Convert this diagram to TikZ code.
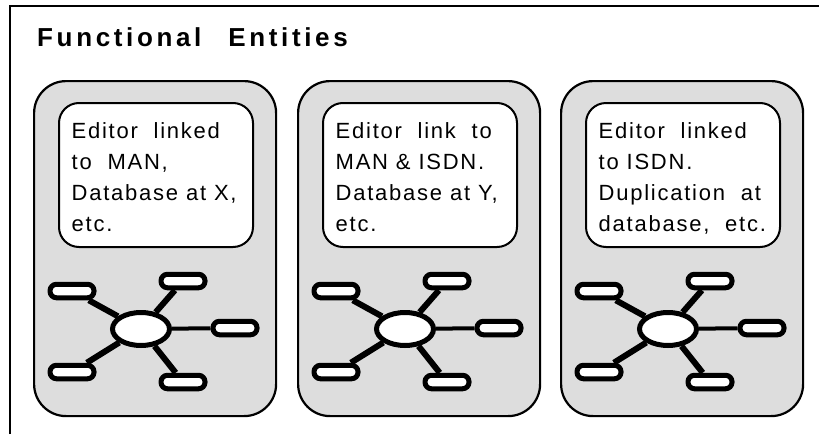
\documentclass[tikz,border=0pt]{standalone}
\usepackage{fontspec}
\setmainfont{Liberation Sans}
\newfontfamily\bodyfont[LetterSpace=8]{Liberation Sans}
\newfontfamily\headfont[LetterSpace=14]{Liberation Sans Bold}
\usetikzlibrary{shapes.geometric}
\definecolor{panelgray}{RGB}{221,221,221}

\begin{document}
\begin{tikzpicture}[x=1pt,y=-1pt,
  panel/.style={rectangle, draw, line width=2.2pt, fill=panelgray, rounded corners=32pt,
    minimum width=242pt, minimum height=335pt, inner sep=0pt, anchor=north west},
  notebox/.style={rectangle, draw, line width=2pt, fill=white, rounded corners=20pt,
    minimum width=194pt, minimum height=144pt, inner sep=0pt, anchor=north west},
  notetext/.style={anchor=base west, inner sep=0pt,
    font=\bodyfont\fontsize{22}{31.3}\selectfont},
  hub/.style={ellipse, draw, line width=5pt, fill=white,
    minimum width=57pt, minimum height=33pt, inner sep=0pt},
  leaf/.style={rectangle, draw, line width=5pt, fill=white, rounded corners=6.5pt,
    minimum width=44pt, minimum height=13.5pt, inner sep=0pt},
  spoke/.style={line width=6pt},
  thinspoke/.style={line width=4pt}
]
\useasboundingbox (0,0) rectangle (819,434);

% frame along the top and left edges
\draw[line width=2.4pt] (10,434) -- (10,6) -- (819,6);

% heading
\node[anchor=base west, inner sep=0pt,
      font=\headfont\fontsize{26}{30}\selectfont] (title) at (37,46)
  {Functional\hspace{27pt}Entities};

% three entity panels, each with a note and a star network
\foreach \i/\xo/\txt in {
  1/33/{Editor\ \ linked\\to\ \ MAN,\\Database at X,\\etc.},
  2/297/{Editor\ \ link\ \ to\\MAN \& ISDN.\\Database at Y,\\etc.},
  3/560/{Editor\ \ linked\\to ISDN.\\Duplication\ \ at\\database,\ \ etc.}}{
  \node[panel] (panel\i) at (\xo,80) {};
  \node[notebox] (note\i) at (\xo+25,102) {};
  \node[notetext] (text\i) at (\xo+38.5,138) {\parbox[t]{190pt}{\txt}};

  \node[hub]  (hub\i) at (\xo+108,329) {};
  \node[leaf] (ul\i)  at (\xo+39,291) {};
  \node[leaf] (ur\i)  at (\xo+150,281) {};
  \node[leaf] (r\i)   at (\xo+202,328) {};
  \node[leaf] (ll\i)  at (\xo+39,372) {};
  \node[leaf] (lr\i)  at (\xo+150,382) {};

  \draw[spoke] (hub\i) -- (ul\i);
  \draw[spoke] (hub\i) -- (ur\i);
  \draw[thinspoke] (hub\i) -- (r\i);
  \draw[spoke] (hub\i) -- (ll\i);
  \draw[spoke] (hub\i) -- (lr\i);
}
\end{tikzpicture}
\end{document}
